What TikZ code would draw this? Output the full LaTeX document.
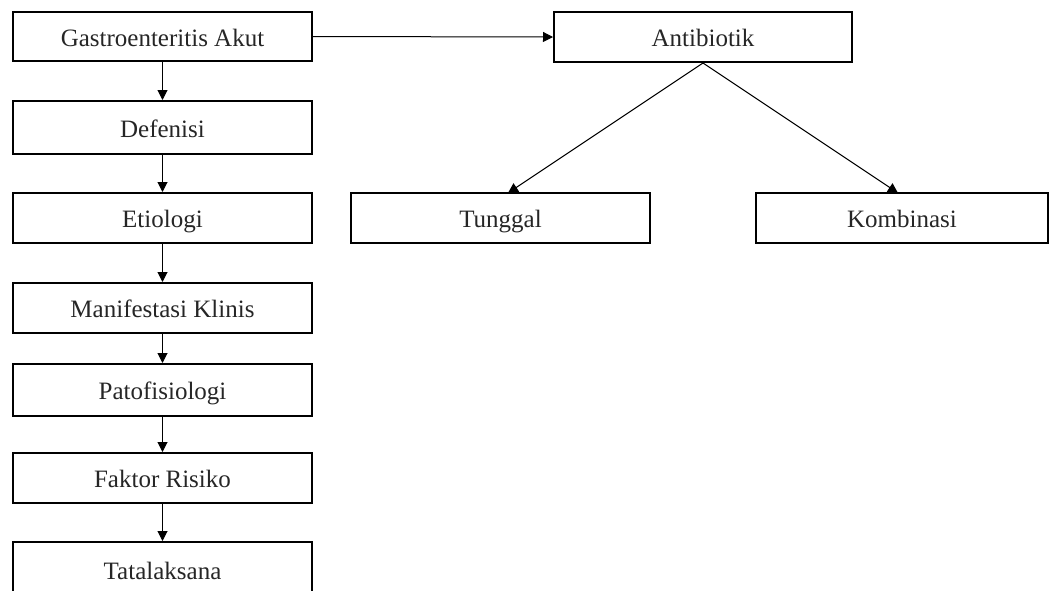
\documentclass[tikz,border=0pt]{standalone}
\usepackage{fontspec}
\setmainfont{Liberation Serif}
\usetikzlibrary{arrows.meta}
\begin{document}
\begin{tikzpicture}[x=1pt,y=-1pt,
  box/.style={draw, line width=2pt, inner sep=0pt, text height=19pt, text depth=0pt, font=\fontsize{25}{30}\selectfont, text=black!85},
  conn/.style={line width=1pt, -{Triangle[length=10pt,width=10pt]}}]
\useasboundingbox (0,0) rectangle (1050,590);
\clip (0,0) rectangle (1050,590);
\node[box, minimum width=299pt, minimum height=49pt] (g) at (162.5,36.5) {Gastroenteritis Akut};
\node[box, minimum width=299pt, minimum height=53pt] (d) at (162.5,127.5) {Defenisi};
\node[box, minimum width=299pt, minimum height=50pt] (e) at (162.5,218) {Etiologi};
\node[box, minimum width=299pt, minimum height=50pt] (m) at (162.5,308) {Manifestasi Klinis};
\node[box, minimum width=299pt, minimum height=52pt] (p) at (162.5,390) {Patofisiologi};
\node[box, minimum width=299pt, minimum height=50pt] (f) at (162.5,478) {Faktor Risiko};
\node[box, minimum width=299pt, minimum height=56pt] (t) at (162.5,570) {Tatalaksana};
\node[box, minimum width=298pt, minimum height=50pt] (a) at (703,37) {Antibiotik};
\node[box, minimum width=299pt, minimum height=50pt] (tu) at (500.5,218) {Tunggal};
\node[box, minimum width=292pt, minimum height=50pt] (k) at (902,218) {Kombinasi};
\coordinate (tuin) at (508,193);
\coordinate (kin) at (898,193);
\draw[conn] (g) -- (d);
\draw[conn] (d) -- (e);
\draw[conn] (e) -- (m);
\draw[conn] (m) -- (p);
\draw[conn] (p) -- (f);
\draw[conn] (f) -- (t);
\draw[conn] (g.east) -- (a.west);
\draw[conn] (a.south) -- (tuin);
\draw[conn] (a.south) -- (kin);
\end{tikzpicture}
\end{document}
